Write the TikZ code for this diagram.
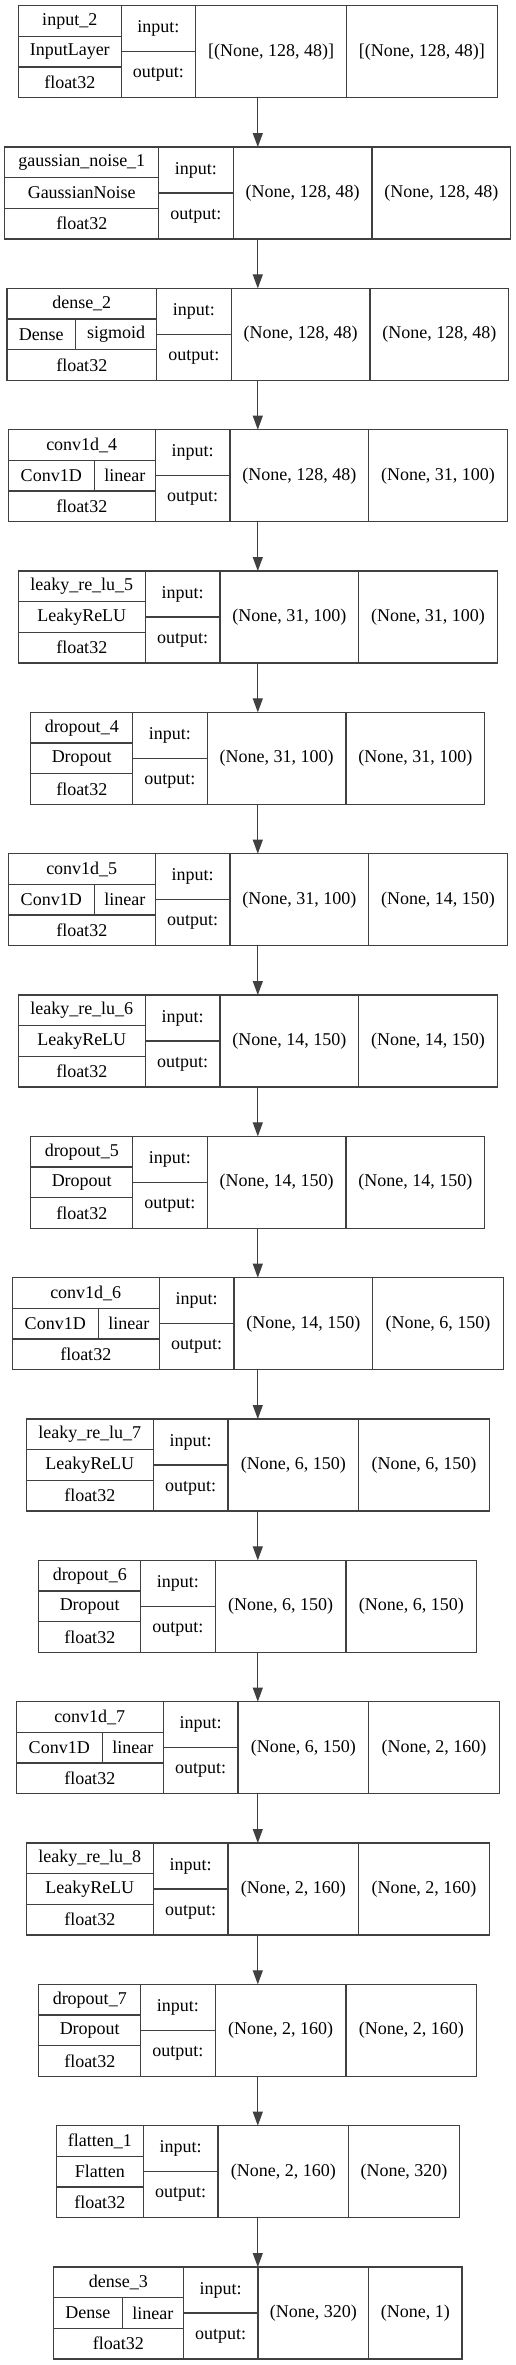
\documentclass[tikz,border=0pt]{standalone}
\usepackage{fontspec}
\setmainfont{Liberation Serif}
\usetikzlibrary{positioning,arrows.meta}

\begin{document}
\begin{tikzpicture}[x=1pt, y=1pt, node distance=49.33pt,
  font=\fontsize{18}{20}\selectfont,
  layer/.style={draw=black!75, line width=1.1pt, inner sep=0pt, outer sep=0pt, minimum height=92pt},
  cell/.style={draw=black!75, line width=1.1pt, inner sep=0pt, outer sep=0pt, minimum height=30.67pt},
  io/.style={cell, minimum width=74.7pt, minimum height=46pt},
  shp/.style={cell, minimum height=92pt},
  arr/.style={-{Triangle[length=14pt, width=10pt]}, draw=black!75, line width=1.1pt}]

  \useasboundingbox (0,0) rectangle (516,-2365);

  % input_2
  \node[layer, minimum width=478.8pt] (L1) at (257.8,-51.7) {};
  \node[cell, minimum width=102.7pt, anchor=north west] (N1) at (L1.north west) {input\_2};
  \node[cell, minimum width=102.7pt, below=0pt of N1] (K1) {InputLayer};
  \node[cell, minimum width=102.7pt, below=0pt of K1] (T1) {float32};
  \node[io, anchor=north west] (I1) at (N1.north east) {input:};
  \node[io, below=0pt of I1] (O1) {output:};
  \node[shp, minimum width=150.7pt, anchor=north west] (X1) at (I1.north east) {[(None, 128, 48)]};
  \node[shp, minimum width=150.7pt, right=0pt of X1] (Y1) {[(None, 128, 48)]};

  % gaussian_noise_1
  \node[layer, minimum width=505.8pt, below=of L1] (L2) {};
  \node[cell, minimum width=153.7pt, anchor=north west] (N2) at (L2.north west) {gaussian\_noise\_1};
  \node[cell, minimum width=153.7pt, below=0pt of N2] (K2) {GaussianNoise};
  \node[cell, minimum width=153.7pt, below=0pt of K2] (T2) {float32};
  \node[io, anchor=north west] (I2) at (N2.north east) {input:};
  \node[io, below=0pt of I2] (O2) {output:};
  \node[shp, minimum width=138.7pt, anchor=north west] (X2) at (I2.north east) {(None, 128, 48)};
  \node[shp, minimum width=138.7pt, right=0pt of X2] (Y2) {(None, 128, 48)};

  % dense_2
  \node[layer, minimum width=501.7pt, below=of L2] (L3) {};
  \node[cell, minimum width=149.6pt, anchor=north west] (N3) at (L3.north west) {dense\_2};
  \node[cell, minimum width=68.6pt, anchor=north west] (K3) at (N3.south west) {Dense};
  \node[cell, minimum width=81pt, right=0pt of K3] (A3) {sigmoid};
  \node[cell, minimum width=149.6pt, anchor=north west] (T3) at (K3.south west) {float32};
  \node[io, anchor=north west] (I3) at (N3.north east) {input:};
  \node[io, below=0pt of I3] (O3) {output:};
  \node[shp, minimum width=138.7pt, anchor=north west] (X3) at (I3.north east) {(None, 128, 48)};
  \node[shp, minimum width=138.7pt, right=0pt of X3] (Y3) {(None, 128, 48)};

  % conv1d_4
  \node[layer, minimum width=499.1pt, below=of L3] (L4) {};
  \node[cell, minimum width=147pt, anchor=north west] (N4) at (L4.north west) {conv1d\_4};
  \node[cell, minimum width=86pt, anchor=north west] (K4) at (N4.south west) {Conv1D};
  \node[cell, minimum width=61pt, right=0pt of K4] (A4) {linear};
  \node[cell, minimum width=147pt, anchor=north west] (T4) at (K4.south west) {float32};
  \node[io, anchor=north west] (I4) at (N4.north east) {input:};
  \node[io, below=0pt of I4] (O4) {output:};
  \node[shp, minimum width=138.7pt, anchor=north west] (X4) at (I4.north east) {(None, 128, 48)};
  \node[shp, minimum width=138.7pt, right=0pt of X4] (Y4) {(None, 31, 100)};

  % leaky_re_lu_5
  \node[layer, minimum width=479.1pt, below=of L4] (L5) {};
  \node[cell, minimum width=127pt, anchor=north west] (N5) at (L5.north west) {leaky\_re\_lu\_5};
  \node[cell, minimum width=127pt, below=0pt of N5] (K5) {LeakyReLU};
  \node[cell, minimum width=127pt, below=0pt of K5] (T5) {float32};
  \node[io, anchor=north west] (I5) at (N5.north east) {input:};
  \node[io, below=0pt of I5] (O5) {output:};
  \node[shp, minimum width=138.7pt, anchor=north west] (X5) at (I5.north east) {(None, 31, 100)};
  \node[shp, minimum width=138.7pt, right=0pt of X5] (Y5) {(None, 31, 100)};

  % dropout_4
  \node[layer, minimum width=453.8pt, below=of L5] (L6) {};
  \node[cell, minimum width=101.7pt, anchor=north west] (N6) at (L6.north west) {dropout\_4};
  \node[cell, minimum width=101.7pt, below=0pt of N6] (K6) {Dropout};
  \node[cell, minimum width=101.7pt, below=0pt of K6] (T6) {float32};
  \node[io, anchor=north west] (I6) at (N6.north east) {input:};
  \node[io, below=0pt of I6] (O6) {output:};
  \node[shp, minimum width=138.7pt, anchor=north west] (X6) at (I6.north east) {(None, 31, 100)};
  \node[shp, minimum width=138.7pt, right=0pt of X6] (Y6) {(None, 31, 100)};

  % conv1d_5
  \node[layer, minimum width=499.1pt, below=of L6] (L7) {};
  \node[cell, minimum width=147pt, anchor=north west] (N7) at (L7.north west) {conv1d\_5};
  \node[cell, minimum width=86pt, anchor=north west] (K7) at (N7.south west) {Conv1D};
  \node[cell, minimum width=61pt, right=0pt of K7] (A7) {linear};
  \node[cell, minimum width=147pt, anchor=north west] (T7) at (K7.south west) {float32};
  \node[io, anchor=north west] (I7) at (N7.north east) {input:};
  \node[io, below=0pt of I7] (O7) {output:};
  \node[shp, minimum width=138.7pt, anchor=north west] (X7) at (I7.north east) {(None, 31, 100)};
  \node[shp, minimum width=138.7pt, right=0pt of X7] (Y7) {(None, 14, 150)};

  % leaky_re_lu_6
  \node[layer, minimum width=479.1pt, below=of L7] (L8) {};
  \node[cell, minimum width=127pt, anchor=north west] (N8) at (L8.north west) {leaky\_re\_lu\_6};
  \node[cell, minimum width=127pt, below=0pt of N8] (K8) {LeakyReLU};
  \node[cell, minimum width=127pt, below=0pt of K8] (T8) {float32};
  \node[io, anchor=north west] (I8) at (N8.north east) {input:};
  \node[io, below=0pt of I8] (O8) {output:};
  \node[shp, minimum width=138.7pt, anchor=north west] (X8) at (I8.north east) {(None, 14, 150)};
  \node[shp, minimum width=138.7pt, right=0pt of X8] (Y8) {(None, 14, 150)};

  % dropout_5
  \node[layer, minimum width=453.8pt, below=of L8] (L9) {};
  \node[cell, minimum width=101.7pt, anchor=north west] (N9) at (L9.north west) {dropout\_5};
  \node[cell, minimum width=101.7pt, below=0pt of N9] (K9) {Dropout};
  \node[cell, minimum width=101.7pt, below=0pt of K9] (T9) {float32};
  \node[io, anchor=north west] (I9) at (N9.north east) {input:};
  \node[io, below=0pt of I9] (O9) {output:};
  \node[shp, minimum width=138.7pt, anchor=north west] (X9) at (I9.north east) {(None, 14, 150)};
  \node[shp, minimum width=138.7pt, right=0pt of X9] (Y9) {(None, 14, 150)};

  % conv1d_6
  \node[layer, minimum width=491.1pt, below=of L9] (L10) {};
  \node[cell, minimum width=147pt, anchor=north west] (N10) at (L10.north west) {conv1d\_6};
  \node[cell, minimum width=86pt, anchor=north west] (K10) at (N10.south west) {Conv1D};
  \node[cell, minimum width=61pt, right=0pt of K10] (A10) {linear};
  \node[cell, minimum width=147pt, anchor=north west] (T10) at (K10.south west) {float32};
  \node[io, anchor=north west] (I10) at (N10.north east) {input:};
  \node[io, below=0pt of I10] (O10) {output:};
  \node[shp, minimum width=138.7pt, anchor=north west] (X10) at (I10.north east) {(None, 14, 150)};
  \node[shp, minimum width=130.7pt, right=0pt of X10] (Y10) {(None, 6, 150)};

  % leaky_re_lu_7
  \node[layer, minimum width=463.1pt, below=of L10] (L11) {};
  \node[cell, minimum width=127pt, anchor=north west] (N11) at (L11.north west) {leaky\_re\_lu\_7};
  \node[cell, minimum width=127pt, below=0pt of N11] (K11) {LeakyReLU};
  \node[cell, minimum width=127pt, below=0pt of K11] (T11) {float32};
  \node[io, anchor=north west] (I11) at (N11.north east) {input:};
  \node[io, below=0pt of I11] (O11) {output:};
  \node[shp, minimum width=130.7pt, anchor=north west] (X11) at (I11.north east) {(None, 6, 150)};
  \node[shp, minimum width=130.7pt, right=0pt of X11] (Y11) {(None, 6, 150)};

  % dropout_6
  \node[layer, minimum width=437.8pt, below=of L11] (L12) {};
  \node[cell, minimum width=101.7pt, anchor=north west] (N12) at (L12.north west) {dropout\_6};
  \node[cell, minimum width=101.7pt, below=0pt of N12] (K12) {Dropout};
  \node[cell, minimum width=101.7pt, below=0pt of K12] (T12) {float32};
  \node[io, anchor=north west] (I12) at (N12.north east) {input:};
  \node[io, below=0pt of I12] (O12) {output:};
  \node[shp, minimum width=130.7pt, anchor=north west] (X12) at (I12.north east) {(None, 6, 150)};
  \node[shp, minimum width=130.7pt, right=0pt of X12] (Y12) {(None, 6, 150)};

  % conv1d_7
  \node[layer, minimum width=483.1pt, below=of L12] (L13) {};
  \node[cell, minimum width=147pt, anchor=north west] (N13) at (L13.north west) {conv1d\_7};
  \node[cell, minimum width=86pt, anchor=north west] (K13) at (N13.south west) {Conv1D};
  \node[cell, minimum width=61pt, right=0pt of K13] (A13) {linear};
  \node[cell, minimum width=147pt, anchor=north west] (T13) at (K13.south west) {float32};
  \node[io, anchor=north west] (I13) at (N13.north east) {input:};
  \node[io, below=0pt of I13] (O13) {output:};
  \node[shp, minimum width=130.7pt, anchor=north west] (X13) at (I13.north east) {(None, 6, 150)};
  \node[shp, minimum width=130.7pt, right=0pt of X13] (Y13) {(None, 2, 160)};

  % leaky_re_lu_8
  \node[layer, minimum width=463.1pt, below=of L13] (L14) {};
  \node[cell, minimum width=127pt, anchor=north west] (N14) at (L14.north west) {leaky\_re\_lu\_8};
  \node[cell, minimum width=127pt, below=0pt of N14] (K14) {LeakyReLU};
  \node[cell, minimum width=127pt, below=0pt of K14] (T14) {float32};
  \node[io, anchor=north west] (I14) at (N14.north east) {input:};
  \node[io, below=0pt of I14] (O14) {output:};
  \node[shp, minimum width=130.7pt, anchor=north west] (X14) at (I14.north east) {(None, 2, 160)};
  \node[shp, minimum width=130.7pt, right=0pt of X14] (Y14) {(None, 2, 160)};

  % dropout_7
  \node[layer, minimum width=437.8pt, below=of L14] (L15) {};
  \node[cell, minimum width=101.7pt, anchor=north west] (N15) at (L15.north west) {dropout\_7};
  \node[cell, minimum width=101.7pt, below=0pt of N15] (K15) {Dropout};
  \node[cell, minimum width=101.7pt, below=0pt of K15] (T15) {float32};
  \node[io, anchor=north west] (I15) at (N15.north east) {input:};
  \node[io, below=0pt of I15] (O15) {output:};
  \node[shp, minimum width=130.7pt, anchor=north west] (X15) at (I15.north east) {(None, 2, 160)};
  \node[shp, minimum width=130.7pt, right=0pt of X15] (Y15) {(None, 2, 160)};

  % flatten_1
  \node[layer, minimum width=403.1pt, below=of L15] (L16) {};
  \node[cell, minimum width=87pt, anchor=north west] (N16) at (L16.north west) {flatten\_1};
  \node[cell, minimum width=87pt, below=0pt of N16] (K16) {Flatten};
  \node[cell, minimum width=87pt, below=0pt of K16] (T16) {float32};
  \node[io, anchor=north west] (I16) at (N16.north east) {input:};
  \node[io, below=0pt of I16] (O16) {output:};
  \node[shp, minimum width=130.7pt, anchor=north west] (X16) at (I16.north east) {(None, 2, 160)};
  \node[shp, minimum width=110.7pt, right=0pt of X16] (Y16) {(None, 320)};

  % dense_3
  \node[layer, minimum width=408.3pt, below=of L16] (L17) {};
  \node[cell, minimum width=129.6pt, anchor=north west] (N17) at (L17.north west) {dense\_3};
  \node[cell, minimum width=68.6pt, anchor=north west] (K17) at (N17.south west) {Dense};
  \node[cell, minimum width=61pt, right=0pt of K17] (A17) {linear};
  \node[cell, minimum width=129.6pt, anchor=north west] (T17) at (K17.south west) {float32};
  \node[io, anchor=north west] (I17) at (N17.north east) {input:};
  \node[io, below=0pt of I17] (O17) {output:};
  \node[shp, minimum width=110.7pt, anchor=north west] (X17) at (I17.north east) {(None, 320)};
  \node[shp, minimum width=93.3pt, right=0pt of X17] (Y17) {(None, 1)};

  % Arrows between layers
  \draw[arr] (L1) -- (L2);
  \draw[arr] (L2) -- (L3);
  \draw[arr] (L3) -- (L4);
  \draw[arr] (L4) -- (L5);
  \draw[arr] (L5) -- (L6);
  \draw[arr] (L6) -- (L7);
  \draw[arr] (L7) -- (L8);
  \draw[arr] (L8) -- (L9);
  \draw[arr] (L9) -- (L10);
  \draw[arr] (L10) -- (L11);
  \draw[arr] (L11) -- (L12);
  \draw[arr] (L12) -- (L13);
  \draw[arr] (L13) -- (L14);
  \draw[arr] (L14) -- (L15);
  \draw[arr] (L15) -- (L16);
  \draw[arr] (L16) -- (L17);

\end{tikzpicture}
\end{document}
